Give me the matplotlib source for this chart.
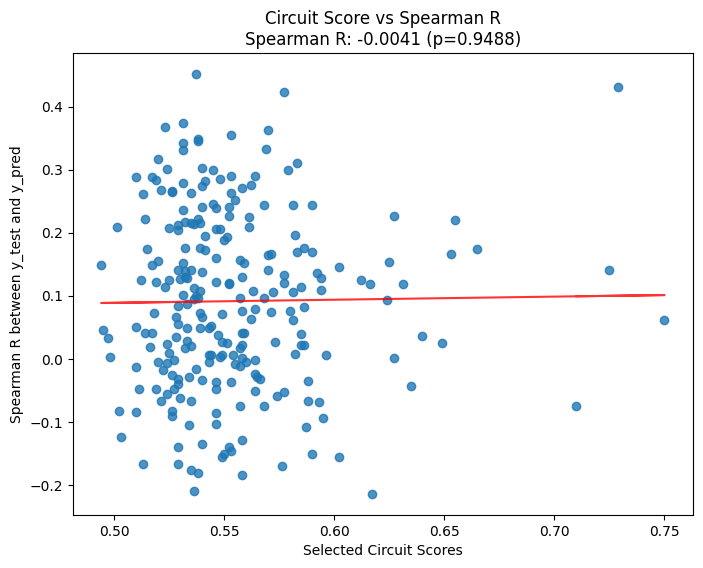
import numpy as np
import matplotlib
matplotlib.use("Agg")
import matplotlib.pyplot as plt

# circuit scores (x) and spearman R (y)
circuit_scores = [
    0.537, 0.523, 0.531, 0.553, 0.531, 0.531, 0.538, 0.538, 0.520, 0.524,
    0.510, 0.517, 0.519, 0.540, 0.545, 0.548, 0.553, 0.541, 0.540, 0.531,
    0.521, 0.526, 0.526, 0.535, 0.513, 0.558, 0.553, 0.555, 0.531, 0.540,
    0.545, 0.546, 0.552,
    0.552, 0.501, 0.514, 0.525, 0.529, 0.529, 0.532, 0.535, 0.538, 0.539,
    0.536, 0.546, 0.548, 0.551, 0.550, 0.541, 0.515, 0.532, 0.539, 0.541,
    0.546, 0.494, 0.517, 0.520, 0.531, 0.529, 0.532, 0.535, 0.532, 0.530,
    0.533, 0.540, 0.512, 0.519, 0.525, 0.523, 0.546, 0.552, 0.552, 0.557,
    0.558, 0.536, 0.539, 0.537, 0.531, 0.538, 0.536, 0.557, 0.529, 0.533,
    0.518, 0.539, 0.540, 0.549, 0.558, 0.528, 0.529, 0.533, 0.539, 0.544,
    0.543, 0.510, 0.495, 0.497, 0.514, 0.517, 0.528, 0.533, 0.547, 0.549,
    0.551, 0.558, 0.516, 0.524, 0.532, 0.535, 0.557, 0.558,
    0.525, 0.498, 0.510, 0.520, 0.524, 0.527, 0.522, 0.526, 0.529, 0.529,
    0.527, 0.534, 0.537, 0.543, 0.544, 0.543, 0.548, 0.549, 0.554, 0.555,
    0.557, 0.558, 0.511, 0.519, 0.524, 0.521, 0.530, 0.535, 0.540, 0.546,
    0.546, 0.553, 0.557, 0.502, 0.510, 0.526, 0.526, 0.546, 0.534, 0.546,
    0.503, 0.558, 0.529, 0.540, 0.552, 0.553, 0.550, 0.549, 0.513, 0.529,
    0.535, 0.538, 0.558, 0.536,
    0.577, 0.570, 0.569, 0.579, 0.583, 0.564, 0.562, 0.568, 0.581, 0.590,
    0.561, 0.561, 0.582, 0.583, 0.586, 0.590, 0.570, 0.571, 0.559, 0.570,
    0.577, 0.577, 0.592, 0.594, 0.602, 0.612, 0.616, 0.625, 0.627, 0.563,
    0.572, 0.581, 0.585, 0.594, 0.568, 0.624, 0.564, 0.571, 0.580, 0.581,
    0.586, 0.562, 0.559, 0.573, 0.585, 0.585, 0.586,
    0.582, 0.596, 0.627, 0.560, 0.564, 0.564, 0.565, 0.566, 0.564, 0.574,
    0.577, 0.588, 0.568, 0.588, 0.593, 0.595, 0.587, 0.590, 0.602, 0.576,
    0.617,
    0.655, 0.653, 0.665, 0.631, 0.640, 0.649, 0.635,
    0.729, 0.725, 0.750, 0.710,
]
spearman_r = [
    0.452, 0.368, 0.375, 0.356, 0.343, 0.332, 0.346, 0.349, 0.317, 0.302,
    0.289, 0.289, 0.284, 0.303, 0.300, 0.286, 0.290, 0.283, 0.275, 0.279,
    0.268, 0.265, 0.266, 0.263, 0.262, 0.271, 0.263, 0.252, 0.236, 0.241,
    0.246, 0.240, 0.241,
    0.227, 0.210, 0.222, 0.208, 0.213, 0.205, 0.217, 0.215, 0.222, 0.216,
    0.214, 0.206, 0.206, 0.194, 0.188, 0.195, 0.174, 0.176, 0.176, 0.173,
    0.160, 0.149, 0.149, 0.155, 0.152, 0.141, 0.140, 0.141, 0.130, 0.127,
    0.129, 0.138, 0.126, 0.122, 0.126, 0.114, 0.122, 0.119, 0.120, 0.157,
    0.130, 0.112, 0.108, 0.100, 0.101, 0.097, 0.095, 0.097, 0.084, 0.087,
    0.073, 0.073, 0.067, 0.071, 0.076, 0.067, 0.055, 0.049, 0.049, 0.053,
    0.049, 0.051, 0.046, 0.034, 0.041, 0.042, 0.035, 0.029, 0.038, 0.027,
    0.025, 0.041, 0.019, 0.024, 0.018, 0.020, 0.017, 0.022,
    0.010, 0.003, -0.013, -0.005, -0.007, -0.002, -0.018, -0.026, -0.031, -0.040,
    -0.047, -0.029, -0.016, 0.006, 0.007, -0.005, 0.003, 0.007, 0.007, -0.008,
    -0.011, 0.001, -0.048, -0.048, -0.055, -0.067, -0.062, -0.066, -0.034, -0.037,
    -0.048, -0.037, -0.074, -0.083, -0.084, -0.083, -0.091, -0.086, -0.105, -0.103,
    -0.124, -0.129, -0.140, -0.134, -0.140, -0.146, -0.151, -0.155, -0.167, -0.166,
    -0.176, -0.180, -0.184, -0.210,
    0.423, 0.363, 0.333, 0.300, 0.311, 0.290, 0.276, 0.244, 0.244, 0.244,
    0.225, 0.210, 0.197, 0.169, 0.176, 0.170, 0.165, 0.166, 0.153, 0.141,
    0.133, 0.120, 0.137, 0.128, 0.146, 0.125, 0.119, 0.154, 0.227, 0.108,
    0.106, 0.106, 0.114, 0.110, 0.097, 0.093, 0.080, 0.074, 0.076, 0.062,
    0.083, 0.063, 0.041, 0.027, 0.039, 0.023, 0.023,
    0.008, 0.006, 0.001, -0.005, -0.002, -0.023, -0.029, -0.032, -0.050, -0.058,
    -0.053, -0.035, -0.074, -0.067, -0.068, -0.093, -0.107, -0.151, -0.156, -0.169,
    -0.214,
    0.220, 0.167, 0.174, 0.119, 0.036, 0.026, -0.042,
    0.431, 0.141, 0.062, -0.075,
]
title_r = "-0.0041"
title_p = "0.9488"

x = np.array(circuit_scores)
y = np.array(spearman_r)

fig = plt.figure(figsize=(7.03, 5.68), dpi=100)
plt.subplots_adjust(left=0.1038, right=0.9853, bottom=0.0933, top=0.9067)
plt.scatter(x, y, alpha=0.8)

# trend line
z = np.polyfit(x, y, 1)
p = np.poly1d(z)
plt.plot(x, p(x), "r-", alpha=0.8)

plt.xlabel("Selected Circuit Scores")
plt.ylabel("Spearman R between y_test and y_pred")
plt.title(f"Circuit Score vs Spearman R\nSpearman R: {title_r} (p={title_p})")
plt.savefig("out.png", dpi=100)
